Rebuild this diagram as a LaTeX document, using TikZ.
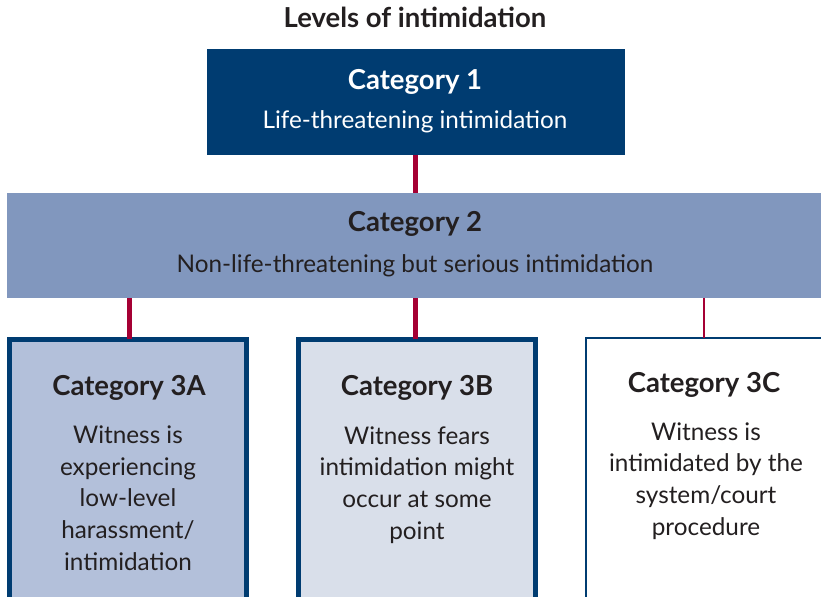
\documentclass[tikz,border=0pt]{standalone}
\usepackage{fontspec}
\setmainfont{Lato}
\definecolor{navy}{HTML}{003C71}
\definecolor{crimson}{HTML}{A50034}
\definecolor{midblue}{HTML}{8197BE}
\definecolor{paleA}{HTML}{B3C0DA}
\definecolor{paleB}{HTML}{D9DFEA}
\definecolor{ink}{HTML}{231F20}
\newcommand{\hdfont}{\fontsize{27.5bp}{32bp}\selectfont\bfseries}
\newcommand{\bdfont}{\fontsize{24.3bp}{31.6bp}\selectfont}
\tikzset{
  box/.style={rectangle, inner sep=0pt, outer sep=0pt},
  link/.style={draw=crimson, line width=5bp},
  txt/.style={inner sep=0pt, outer sep=0pt, align=center, text=ink},
}
\begin{document}
\begin{tikzpicture}[x=1bp,y=-1bp]
\clip (0,0) rectangle (821,597);
\node[txt, anchor=base, font=\hdfont] (title) at (415,28) {Levels of intimidation};
% boxes
\node[box, fill=navy, minimum width=418bp, minimum height=106bp] (c1) at (416,102) {};
\node[box, fill=midblue, minimum width=830bp, minimum height=105bp] (c2) at (422,245.5) {};
\node[box, draw=navy, line width=5bp, fill=paleA, minimum width=237bp, minimum height=300bp] (c3a) at (128,489.5) {};
\node[box, draw=navy, line width=5bp, fill=paleB, minimum width=237bp, minimum height=300bp] (c3b) at (417,489.5) {};
\node[box, draw=navy, line width=2bp, fill=white, minimum width=300bp, minimum height=300bp] (c3c) at (736,488) {};
% connectors
\draw[link] (c1.south -| 415.5,0) -- (c2.north -| 415.5,0);
\draw[link] (c2.south -| 129.5,0) -- (c3a.north -| 129.5,0);
\draw[link] (c2.south -| 415.5,0) -- (c3b.north -| 415.5,0);
\draw[link, line width=2.3bp] (c2.south -| 704,0) -- (c3c.north -| 704,0);
% texts
\node[txt, anchor=base, text=white, font=\hdfont] (t1) at (415,89.5) {Category 1};
\node[txt, anchor=base, text=white, font=\bdfont] (s1) at (415,129) {Life-threatening intimidation};
\node[txt, anchor=base, font=\hdfont] (t2) at (415,232) {Category 2};
\node[txt, anchor=base, font=\bdfont] (s2) at (415,272) {Non-life-threatening but serious intimidation};
\node[txt, anchor=base, font=\hdfont] (t3a) at (129,395) {Category 3A};
\node[txt, anchor=base, font=\bdfont] (s3a) at (128,570) {Witness is\\experiencing\\low-level\\harassment/\\intimidation};
\node[txt, anchor=base, font=\hdfont] (t3b) at (417,395) {Category 3B};
\node[txt, anchor=base, font=\bdfont] (s3b) at (417,539) {Witness fears\\intimidation might\\occur at some\\point};
\node[txt, anchor=base, font=\hdfont] (t3c) at (704,392) {Category 3C};
\node[txt, anchor=base, font=\bdfont] (s3c) at (706,535) {Witness is\\intimidated by the\\system/court\\procedure};
\end{tikzpicture}
\end{document}
